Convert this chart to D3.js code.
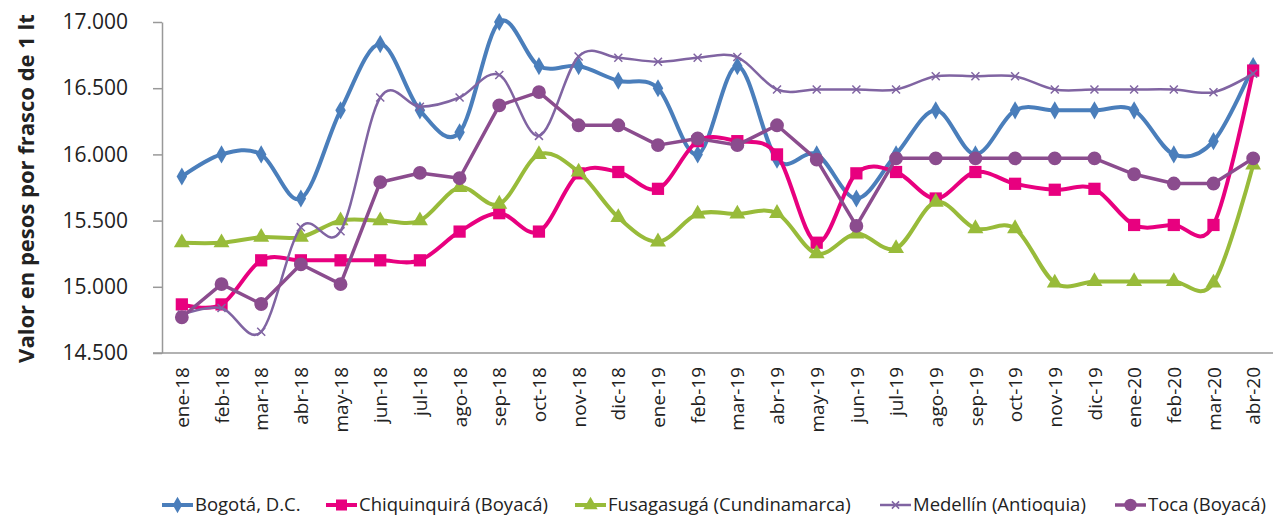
<!DOCTYPE html>
<html>
<head>
<meta charset="utf-8">
<script src="https://cdn.jsdelivr.net/npm/d3@7"></script>
<style>
  html, body { margin: 0; padding: 0; background: #ffffff; }
  svg { display: block; }
  text { font-family: "Open Sans", "Noto Sans", sans-serif; fill: #222; }
</style>
</head>
<body>
<svg id="chart" width="1276" height="518"></svg>
<script>
// Monthly categories, Jan 2018 – Apr 2020
const months = ["ene-18","feb-18","mar-18","abr-18","may-18","jun-18","jul-18","ago-18","sep-18","oct-18","nov-18","dic-18",
                "ene-19","feb-19","mar-19","abr-19","may-19","jun-19","jul-19","ago-19","sep-19","oct-19","nov-19","dic-19",
                "ene-20","feb-20","mar-20","abr-20"];

// Price in pesos per 1-litre jar, by market
const bogota = [15833,16000,16000,15667,16333,16833,16333,16167,17000,16667,16667,16556,
                16500,16000,16667,15960,16000,15667,16000,16333,16000,16333,16333,16333,
                16333,16000,16100,16667];
const chiquinquira = [14867,14867,15200,15200,15200,15200,15200,15417,15556,15417,15857,15867,
                      15740,16100,16100,16000,15333,15857,15867,15667,15867,15778,15733,15740,
                      15467,15467,15467,16633];
const fusagasuga = [15333,15333,15375,15375,15500,15500,15500,15750,15625,16000,15867,15524,
                    15340,15550,15550,15555,15250,15400,15290,15640,15440,15440,15030,15040,
                    15040,15040,15030,15920];
const medellin = [14790,14840,14660,15450,15420,16430,16360,16430,16600,16140,16740,16730,
                  16700,16730,16735,16490,16490,16490,16490,16590,16590,16590,16490,16490,
                  16490,16490,16470,16610];
const toca = [14770,15020,14870,15170,15020,15790,15860,15820,16370,16470,16220,16220,
              16070,16120,16070,16220,15960,15460,15970,15970,15970,15970,15970,15970,
              15850,15780,15780,15970];

const yTicks = [14500,15000,15500,16000,16500,17000];
const yTitle = "Valor en pesos por frasco de 1 lt";

const seriesNames = ["Bogotá, D.C.","Chiquinquirá (Boyacá)","Fusagasugá (Cundinamarca)","Medellín (Antioquia)","Toca (Boyacá)"];
const seriesValues = [bogota, chiquinquira, fusagasuga, medellin, toca];

// Styling per series
const styles = [
  {color:"#4a7ebb", width:4,   symbol:d3.symbolDiamond,  size:95,  curve:d3.curveCatmullRom.alpha(0)},
  {color:"#e8007f", width:4,   symbol:d3.symbolSquare,   size:150, curve:d3.curveCatmullRom.alpha(0)},
  {color:"#98bb3a", width:4,   symbol:d3.symbolTriangle, size:110, curve:d3.curveCatmullRom.alpha(0)},
  {color:"#8064a2", width:2.5, symbol:"x",               size:8,   curve:d3.curveCatmullRom.alpha(0)},
  {color:"#8b4c8e", width:3.5, symbol:d3.symbolCircle,   size:150, curve:d3.curveLinear}
];

const svg = d3.select("#chart");
const plotLeft = 162, plotRight = 1273, plotTop = 22, plotBottom = 353;

const x = d3.scalePoint().domain(months).range([plotLeft, plotRight]).padding(0.5);
const y = d3.scaleLinear().domain([14500, 17000]).range([plotBottom, plotTop]);

const locale = d3.formatLocale({decimal:",", thousands:".", grouping:[3], currency:["$",""]});
const fmt = locale.format(",.0f");

// Y axis
const yAxis = svg.append("g")
  .attr("transform", `translate(${plotLeft},0)`)
  .call(d3.axisLeft(y).tickValues(yTicks).tickFormat(fmt).tickSize(9).tickSizeOuter(0).tickPadding(25));
yAxis.select(".domain").attr("stroke", "#999").attr("stroke-width", 1.5);
yAxis.selectAll(".tick line").attr("stroke", "#999").attr("stroke-width", 1.5);
yAxis.selectAll(".tick text").style("font-size", "21px").attr("fill", "#222");

// X axis
const xAxis = svg.append("g")
  .attr("transform", `translate(0,${plotBottom})`)
  .call(d3.axisBottom(x).tickSize(0).tickSizeOuter(0));
xAxis.select(".domain").attr("d", `M${plotLeft - 9},0H${plotRight}`).attr("stroke", "#999").attr("stroke-width", 1.5);
xAxis.selectAll(".tick text")
  .style("font-size", "19px").attr("fill", "#222")
  .attr("text-anchor", "end")
  .attr("transform", "rotate(-90)")
  .attr("x", -14).attr("y", 0).attr("dy", "0.35em");

// Y axis title
svg.append("text")
  .attr("transform", `translate(34,${(plotTop + plotBottom) / 2 + 1}) rotate(-90)`)
  .attr("text-anchor", "middle")
  .style("font-size", "22px").style("font-weight", "bold")
  .text(yTitle);

function drawSymbol(g, st, cx, cy, scale) {
  const s = scale || 1;
  if (st.symbol === "x") {
    const h = st.size / 2 * s;
    g.append("path")
      .attr("d", `M${cx - h},${cy - h}L${cx + h},${cy + h}M${cx - h},${cy + h}L${cx + h},${cy - h}`)
      .attr("stroke", st.color).attr("stroke-width", 1.5).attr("fill", "none");
  } else {
    g.append("path")
      .attr("d", d3.symbol().type(st.symbol).size(st.size * s * s)())
      .attr("transform", `translate(${cx},${cy})`)
      .attr("fill", st.color);
  }
}

// Series lines and markers
seriesValues.forEach((vals, si) => {
  const st = styles[si];
  const g = svg.append("g");
  const line = d3.line().x((d, i) => x(months[i])).y(d => y(d)).curve(st.curve);
  g.append("path").datum(vals)
    .attr("d", line)
    .attr("fill", "none").attr("stroke", st.color).attr("stroke-width", st.width)
    .attr("stroke-linejoin", "round").attr("stroke-linecap", "round");
  vals.forEach((v, i) => drawSymbol(g, st, x(months[i]), y(v)));
});

// Legend
const legendX = [162, 326, 575, 880, 1115];
const legendY = 505;
seriesNames.forEach((name, si) => {
  const st = styles[si];
  const g = svg.append("g");
  const x0 = legendX[si];
  g.append("line").attr("x1", x0).attr("x2", x0 + 31).attr("y1", legendY).attr("y2", legendY)
    .attr("stroke", st.color).attr("stroke-width", st.width);
  drawSymbol(g, st, x0 + 15.5, legendY, 0.9);
  g.append("text").attr("x", x0 + 33).attr("y", legendY).attr("dy", "0.35em")
    .style("font-size", "18.5px").attr("fill", "#222").text(name);
});
</script>
</body>
</html>
